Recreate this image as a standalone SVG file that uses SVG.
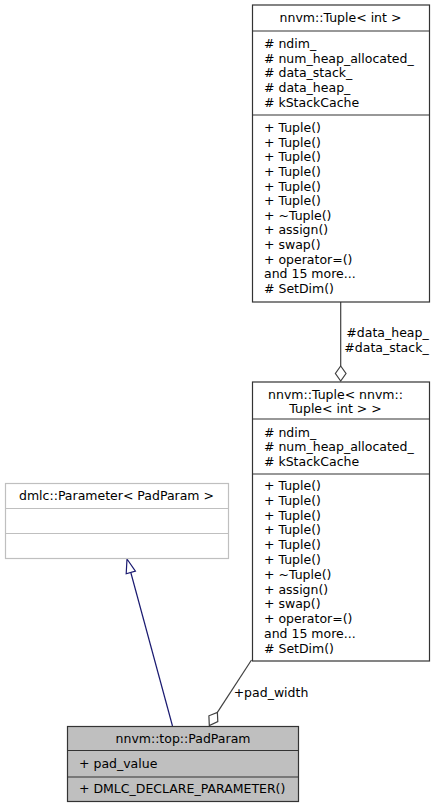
<svg xmlns="http://www.w3.org/2000/svg" width="437" height="808" viewBox="0 0 437 808">
<style>
text{font-family:"DejaVu Sans","Liberation Sans",sans-serif;font-size:12.5px;fill:#000}
.c{text-anchor:middle}
.box{fill:#fff;stroke:#333;stroke-width:1.2}
.sep{stroke:#333;stroke-width:1.2}
.gbox{fill:#fff;stroke:#bfbfbf;stroke-width:1.2}
.gsep{stroke:#bfbfbf;stroke-width:1.2}
.cur{fill:#bfbfbf;stroke:#333;stroke-width:1.2}
.agg{stroke:#404040;stroke-width:1.2;fill:none}
.aggh{stroke:#404040;stroke-width:1.2;fill:#fff}
.inh{stroke:#191970;stroke-width:1.2;fill:none}
.inhh{stroke:#191970;stroke-width:1.2;fill:#fff}
</style>
<rect width="437" height="808" fill="#fff"/>
<g id="connectors">
  <line class="agg" x1="340.7" y1="302" x2="340.7" y2="366"/>
  <polygon class="aggh" points="340.7,366 346,373.5 340.7,381 335.4,373.5"/>
  <text class="c" x="387.5" y="337">#data_heap_</text>
  <text class="c" x="386.5" y="352">#data_stack_</text>
  <line class="agg" x1="251.5" y1="660" x2="217.4" y2="712.4"/>
  <polygon class="aggh" points="217.4,712.4 217.8,721.6 209.3,725.5 208.9,715.8"/>
  <text class="c" x="271" y="696.5">+pad_width</text>
  <line class="inh" x1="172.5" y1="726" x2="130.8" y2="572.5"/>
  <polygon class="inhh" points="127,559 135.4,571.2 126.2,573.8"/>
</g>
<g id="tuple_int">
  <rect class="box" x="252.5" y="5" width="177" height="297"/>
  <line class="sep" x1="252.5" y1="31" x2="429.5" y2="31"/>
  <line class="sep" x1="252.5" y1="115" x2="429.5" y2="115"/>
  <text class="c" x="340.5" y="22">nnvm::Tuple&lt; int &gt;</text>
  <text x="264" y="48.1"># ndim_</text>
  <text x="264" y="62.7"># num_heap_allocated_</text>
  <text x="264" y="77.3"># data_stack_</text>
  <text x="264" y="91.9"># data_heap_</text>
  <text x="264" y="106.5"># kStackCache</text>
  <text x="264" y="132.1">+ Tuple()</text>
  <text x="264" y="146.7">+ Tuple()</text>
  <text x="264" y="161.3">+ Tuple()</text>
  <text x="264" y="175.9">+ Tuple()</text>
  <text x="264" y="190.5">+ Tuple()</text>
  <text x="264" y="205.1">+ Tuple()</text>
  <text x="264" y="219.7">+ ~Tuple()</text>
  <text x="264" y="234.3">+ assign()</text>
  <text x="264" y="248.9">+ swap()</text>
  <text x="264" y="263.5">+ operator=()</text>
  <text x="264" y="278.1">and 15 more...</text>
  <text x="264" y="292.7"># SetDim()</text>
</g>
<g id="tuple_tuple_int">
  <rect class="box" x="252.5" y="382" width="177" height="279"/>
  <line class="sep" x1="252.5" y1="419" x2="429.5" y2="419"/>
  <line class="sep" x1="252.5" y1="474" x2="429.5" y2="474"/>
  <text class="c" x="335.5" y="399">nnvm::Tuple&lt; nnvm::</text>
  <text class="c" x="335.5" y="412.5">Tuple&lt; int &gt; &gt;</text>
  <text x="264" y="437">#&#160;ndim_</text>
  <text x="264" y="451.3"># num_heap_allocated_</text>
  <text x="264" y="465.6"># kStackCache</text>
  <text x="264" y="490">+ Tuple()</text>
  <text x="264" y="504.8">+ Tuple()</text>
  <text x="264" y="519.6">+ Tuple()</text>
  <text x="264" y="534.4">+ Tuple()</text>
  <text x="264" y="549.2">+ Tuple()</text>
  <text x="264" y="564">+ Tuple()</text>
  <text x="264" y="578.8">+ ~Tuple()</text>
  <text x="264" y="593.6">+ assign()</text>
  <text x="264" y="608.4">+ swap()</text>
  <text x="264" y="623.2">+ operator=()</text>
  <text x="264" y="638">and 15 more...</text>
  <text x="264" y="652.8"># SetDim()</text>
</g>
<g id="dmlc_parameter">
  <rect class="gbox" x="5.5" y="483.5" width="223" height="75"/>
  <line class="gsep" x1="5.5" y1="508.5" x2="228.5" y2="508.5"/>
  <line class="gsep" x1="5.5" y1="533.5" x2="228.5" y2="533.5"/>
  <text class="c" x="116.5" y="499.5">dmlc::Parameter&lt; PadParam &gt;</text>
</g>
<g id="padparam">
  <rect class="cur" x="67.5" y="726.5" width="231" height="75"/>
  <line class="sep" x1="67.5" y1="750.5" x2="298.5" y2="750.5"/>
  <line class="sep" x1="67.5" y1="777" x2="298.5" y2="777"/>
  <text class="c" x="183" y="742.5">nnvm::top::PadParam</text>
  <text x="79" y="767.5">+ pad_value</text>
  <text x="79" y="792.5">+ DMLC_DECLARE_PARAMETER()</text>
</g>
</svg>
